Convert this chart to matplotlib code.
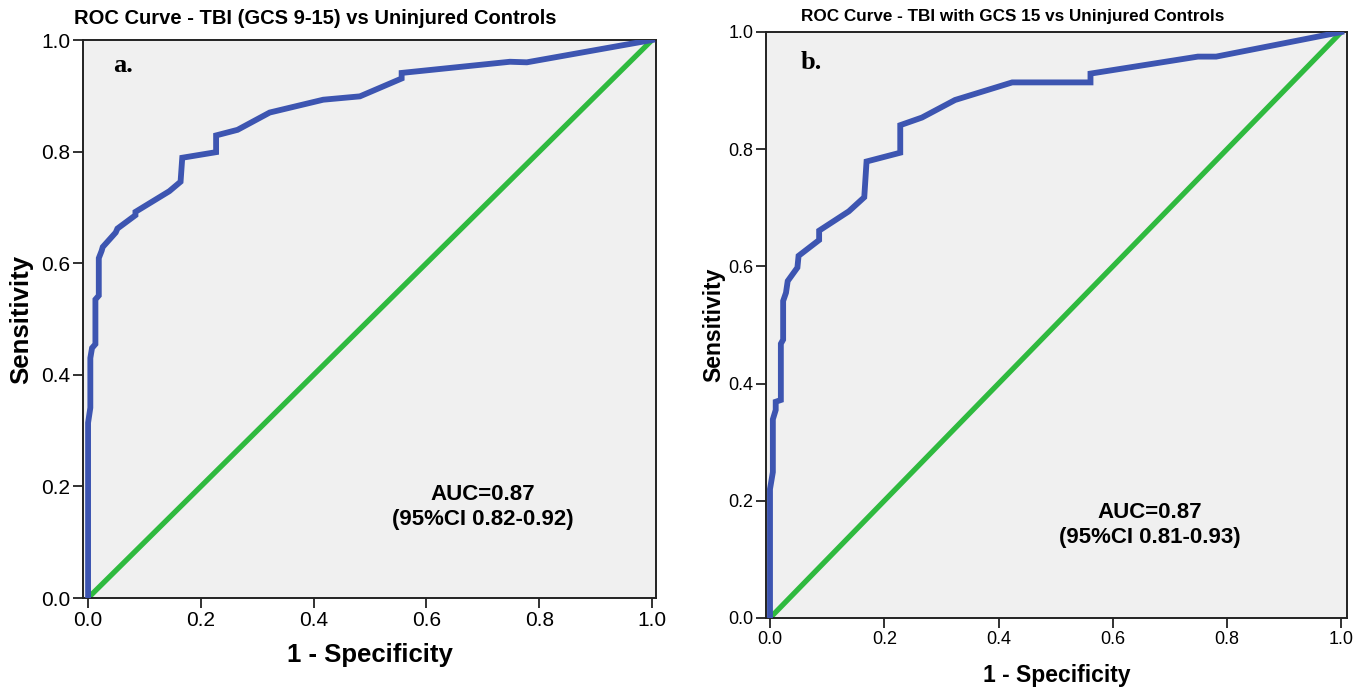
import matplotlib.pyplot as plt

# ROC curve a: TBI (GCS 9-15) vs uninjured controls
fpr_a = [0.0, 0.0, 0.004, 0.004, 0.007, 0.013, 0.013, 0.019, 0.019, 0.024, 0.026,
         0.049, 0.052, 0.084, 0.084, 0.144, 0.164, 0.167, 0.227, 0.227, 0.265,
         0.322, 0.417, 0.482, 0.556, 0.556, 0.748, 0.778, 1.0]
tpr_a = [0.0, 0.314, 0.341, 0.43, 0.448, 0.455, 0.535, 0.542, 0.609, 0.622, 0.629,
         0.655, 0.662, 0.686, 0.692, 0.729, 0.746, 0.789, 0.799, 0.829, 0.839,
         0.870, 0.893, 0.899, 0.931, 0.941, 0.961, 0.960, 1.0]

# ROC curve b: TBI with GCS 15 vs uninjured controls
fpr_b = [0.0, 0.0, 0.005, 0.005, 0.01, 0.01, 0.019, 0.019, 0.023, 0.023, 0.028,
         0.031, 0.048, 0.05, 0.086, 0.086, 0.138, 0.165, 0.169, 0.228, 0.228,
         0.266, 0.324, 0.424, 0.561, 0.561, 0.749, 0.781, 1.0]
tpr_b = [0.0, 0.22, 0.249, 0.339, 0.355, 0.369, 0.372, 0.468, 0.475, 0.541, 0.555,
         0.575, 0.598, 0.618, 0.645, 0.661, 0.694, 0.718, 0.779, 0.794, 0.841,
         0.854, 0.884, 0.914, 0.914, 0.929, 0.958, 0.958, 1.0]

ref_line = [0.0, 1.0]
ticks = [0.0, 0.2, 0.4, 0.6, 0.8, 1.0]

titles = ["ROC Curve - TBI (GCS 9-15) vs Uninjured Controls",
          "ROC Curve - TBI with GCS 15 vs Uninjured Controls"]
panel_tags = ["a.", "b."]
auc_texts = ["AUC=0.87\n(95%CI 0.82-0.92)", "AUC=0.87\n(95%CI 0.81-0.93)"]

BLUE = "#3d55b1"
GREEN = "#2fba3f"

plt.rcParams["font.family"] = ["Liberation Sans", "DejaVu Sans"]

W, H = 1371, 692
fig = plt.figure(figsize=(W / 100, H / 100), dpi=100)


def px_axes(l, r, t, b):
    return fig.add_axes([l / W, 1 - b / H, (r - l) / W, (b - t) / H])


ax_a = px_axes(83, 656, 40, 598)
ax_b = px_axes(766, 1347, 32, 618)

# ax, x, y, xlim, tick size, label size, xlabel pad, ylabel pad, AUC pos, tag pos
setups = [
    (ax_a, fpr_a, tpr_a, (-0.009, 1.007), 15, 18.5, 10, 6, (0.70, 0.163), (0.045, 0.955)),
    (ax_b, fpr_b, tpr_b, (-0.007, 1.010), 13, 16.5, 12, 2, (0.664, 0.158), (0.053, 0.948)),
]

for i, (ax, fx, ty, xl, tfs, lfs, xpad, ypad, apos, tpos) in enumerate(setups):
    ax.set_facecolor("#f0f0f0")
    ax.plot(ref_line, ref_line, color=GREEN, lw=3.8, solid_capstyle="butt", zorder=2)
    ax.plot(fx, ty, color=BLUE, lw=4.2, solid_joinstyle="miter", zorder=3)
    ax.set_xlim(*xl)
    ax.set_ylim(0, 1)
    ax.set_xticks(ticks)
    ax.set_yticks(ticks)
    ax.set_xticklabels([f"{t:.1f}" for t in ticks])
    ax.set_yticklabels([f"{t:.1f}" for t in ticks])
    ax.tick_params(labelsize=tfs, length=7, width=1.3, color="#222222", pad=2)
    for sp in ax.spines.values():
        sp.set_linewidth(1.4)
        sp.set_color("#222222")
    ax.set_xlabel("1 - Specificity", fontsize=lfs, fontweight="bold", labelpad=xpad)
    ax.set_ylabel("Sensitivity", fontsize=lfs, fontweight="bold", labelpad=ypad)
    ax.text(tpos[0], tpos[1], panel_tags[i], fontsize=19, fontweight="bold",
            family=["Liberation Serif", "DejaVu Serif"], va="center", ha="left")
    ax.text(apos[0], apos[1], auc_texts[i], fontsize=16, fontweight="bold",
            ha="center", va="center", linespacing=1.25)

fig.text(315 / W, 1 - 19 / H, titles[0], fontsize=14.5, fontweight="bold",
         ha="center", va="center")
fig.text(1013 / W, 1 - 17 / H, titles[1], fontsize=12.3, fontweight="bold",
         ha="center", va="center")

fig.savefig("out.png", dpi=100, facecolor="white")
